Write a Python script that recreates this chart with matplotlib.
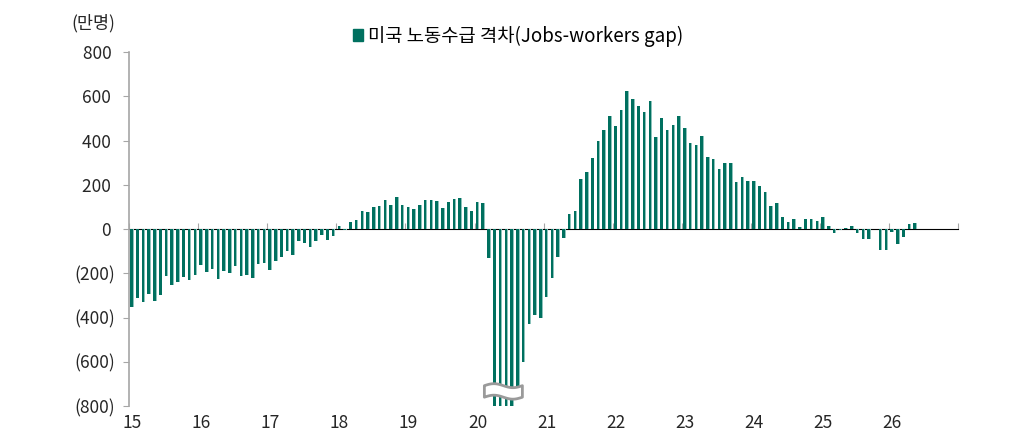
import numpy as np
import pandas as pd
import matplotlib
matplotlib.use("Agg")
import matplotlib.pyplot as plt
from matplotlib.patches import Patch, PathPatch
from matplotlib.path import Path
from matplotlib.ticker import FuncFormatter

plt.rcParams['font.family'] = ['Noto Sans CJK KR', 'DejaVu Sans']

# monthly jobs-workers gap (10k persons), Jan 2015 .. May 2026 (Oct 2025 missing)
months = pd.date_range('2015-01-01', '2026-05-01', freq='MS')
gap = [
    -354, -312, -331, -295, -327, -300, -211, -253, -241, -215, -230, -206,   # 2015
    -163, -194, -182, -227, -188, -200, -167, -211, -208, -223, -157, -155,   # 2016
    -185, -145, -126, -99, -117, -56, -65, -81, -53, -28, -50, -30,           # 2017
    12, -2, 33, 41, 81, 77, 98, 104, 131, 110, 146, 110,                      # 2018
    101, 90, 110, 131, 133, 125, 96, 122, 136, 140, 101, 83,                  # 2019
    123, 120, -131, -1850, -1560, -1180, -1030, -714, -602, -428, -389, -400,  # 2020
    -309, -219, -127, -41, 69, 83, 226, 259, 322, 398, 446, 509,              # 2021
    467, 538, 625, 586, 556, 530, 580, 417, 503, 449, 471, 511,               # 2022
    455, 387, 380, 420, 327, 318, 273, 297, 297, 211, 236, 218,               # 2023
    218, 196, 169, 104, 116, 54, 33, 47, 9, 44, 47, 38,                       # 2024
    56, 12, -20, -6, 6, 14, -20, -47, -44, np.nan, -95, -95,                  # 2025
    -12, -66, -36, 21, 29,                                                    # 2026
]
year_labels = ['15', '16', '17', '18', '19', '20', '21', '22', '23', '24', '25', '26']

bar_color = '#00705f'
bar_edge = '#8cc3bb'
grey = '#a6a6a6'
text_color = '#262626'
ymin, ymax = -800, 800

fig = plt.figure(figsize=(10.12, 4.38), dpi=100)
ax = fig.add_axes([0.1275, 0.073, 0.8195, 0.808])

x = np.arange(len(gap))
# light right-hand rim, then the dark body of each bar
ax.bar(x, gap, width=0.6, color=bar_edge, zorder=2)
ax.bar(x - 0.3, gap, width=0.45, align='edge', color=bar_color, zorder=2)

ax.set_xlim(-0.5, 12 * len(year_labels) - 0.5)
ax.set_ylim(ymin, ymax)

# y axis
ax.set_yticks(np.arange(ymin, ymax + 1, 200))
ax.yaxis.set_major_formatter(FuncFormatter(
    lambda v, p: f'({abs(int(v))})' if v < 0 else f'{int(v)} '))
ax.tick_params(axis='y', length=4, width=0.8, color=grey, pad=6,
               labelsize=12.5, labelcolor=text_color)

# year labels at bottom, tick marks on the zero line
ax.set_xticks(np.arange(len(year_labels)) * 12)
ax.set_xticklabels(year_labels)
ax.tick_params(axis='x', length=0, pad=6, labelsize=12.5, labelcolor=text_color)

for s in ['top', 'right', 'bottom']:
    ax.spines[s].set_visible(False)
ax.spines['left'].set_color(grey)
ax.spines['left'].set_linewidth(1.2)

zero_ax = ax.secondary_xaxis(0.5)
zero_ax.set_xticks(np.arange(len(year_labels) + 1) * 12 - 0.5)
zero_ax.set_xticklabels([])
zero_ax.tick_params(axis='x', direction='out', length=4, width=0.8, color=grey)
zero_ax.spines['bottom'].set_color(grey)
zero_ax.spines['bottom'].set_linewidth(1.2)

# axis break mark over the clipped bars
clipped = x[np.array(gap, dtype=float) < ymin]
cx = clipped.mean()
half_w = 3.3
y_top, y_bot = -708, -760
t = np.linspace(-1, 1, 40)
wave = 9 * np.sin(np.pi * t)
top = np.column_stack([cx + half_w * t, y_top - wave])
bot = np.column_stack([cx + half_w * t[::-1], y_bot - wave[::-1]])
verts = np.vstack([top, bot, top[:1]])
codes = [Path.MOVETO] + [Path.LINETO] * (len(verts) - 2) + [Path.CLOSEPOLY]
ax.add_patch(PathPatch(Path(verts, codes), facecolor='white', edgecolor='#9a9a9a',
                       linewidth=2, joinstyle='round', zorder=3, clip_on=False))

# legend and unit
ax.legend(handles=[Patch(color=bar_color, label='미국 노동수급 격차(Jobs-workers gap)')],
          loc='center', bbox_to_anchor=(0.4686, 1.045), frameon=False,
          handlelength=0.55, handleheight=0.55, handletextpad=0.25,
          fontsize=13.5, borderaxespad=0)
fig.text(0.071, 0.948, '(만명)', fontsize=12.5, color=text_color, va='center')

fig.savefig('out.png', dpi=100)
